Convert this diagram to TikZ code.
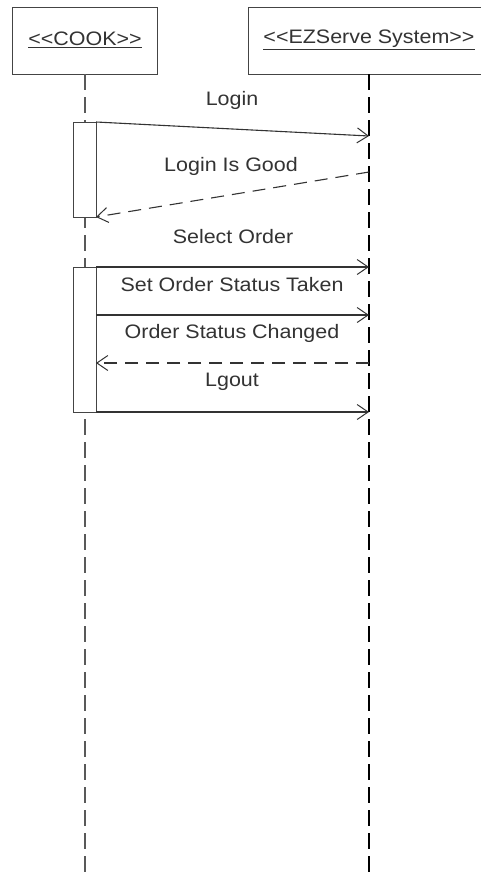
\documentclass[tikz,border=0pt]{standalone}
\usepackage{fontspec}
\setmainfont{Liberation Sans}[FakeStretch=1.1]
\usetikzlibrary{arrows.meta}
\definecolor{ink}{HTML}{333333}
\definecolor{boxline}{HTML}{444444}
\begin{document}
\begin{tikzpicture}[x=1pt,y=-1pt,
  lbl/.style={font=\fontsize{19.5}{22}\selectfont, text=ink, inner sep=0pt},
  msg/.style={draw=ink, line width=1.1pt, -{Straight Barb[length=11pt,width=15pt,line width=1pt]}},
  reply/.style={msg, dash pattern=on 13pt off 8pt},
  lifeline/.style={line width=1.2pt, dash pattern=on 16pt off 7pt},
  objbox/.style={draw=boxline, line width=1.3pt, fill=white, inner sep=0pt},
  actbox/.style={draw=boxline, line width=1.3pt, fill=white, inner sep=0pt}]
\useasboundingbox (0,0) rectangle (481,878);
\fill[white] (0,0) rectangle (481,878);

% object boxes
\node[objbox, anchor=north west, minimum width=145pt, minimum height=67pt] (cook) at (12,7) {};
\node[objbox, anchor=north west, minimum width=245pt, minimum height=67pt] (sys) at (248,7) {};
\node[lbl] (cooklbl) at (85,40) {\underline{<\kern0pt<COOK>\kern0pt>}};
\node[lbl] (syslbl) at (369,40) {\underline{<\kern0pt<EZServe System>\kern0pt>}};

% lifelines
\coordinate (ctop) at (85,74);
\coordinate (cend) at (85,878);
\coordinate (stop) at (369,74);
\coordinate (send) at (369,878);
\draw[lifeline, draw=black!65] (ctop) -- (cend);
\draw[lifeline, draw=black] (stop) -- (send);

% activation boxes
\node[actbox, anchor=north west, minimum width=23pt, minimum height=95pt] (act1) at (73,122) {};
\node[actbox, anchor=north west, minimum width=23pt, minimum height=145pt] (act2) at (73,267) {};

% message anchor points
\coordinate (m1s) at (96,122);   \coordinate (m1e) at (369,136);
\coordinate (m2s) at (369,172);  \coordinate (m2e) at (96,217);
\coordinate (m3s) at (96,267);   \coordinate (m3e) at (369,267);
\coordinate (m4s) at (96,315);   \coordinate (m4e) at (369,315);
\coordinate (m5s) at (369,363);  \coordinate (m5e) at (96,363);
\coordinate (m6s) at (96,412);   \coordinate (m6e) at (369,412);

\draw[msg] (m1s) -- (m1e);
\draw[reply] (m2s) -- (m2e);
\draw[msg] (m3s) -- (m3e);
\draw[msg] (m4s) -- (m4e);
\draw[reply] (m5s) -- (m5e);
\draw[msg] (m6s) -- (m6e);

% labels
\node[lbl] (l1) at (232,100) {Login};
\node[lbl] (l2) at (231,166) {Login Is Good};
\node[lbl] (l3) at (233,237) {Select Order};
\node[lbl] (l4) at (232,285) {Set Order Status Taken};
\node[lbl] (l5) at (232,333) {Order Status Changed};
\node[lbl] (l6) at (232,382) {Lgout};
\end{tikzpicture}
\end{document}
